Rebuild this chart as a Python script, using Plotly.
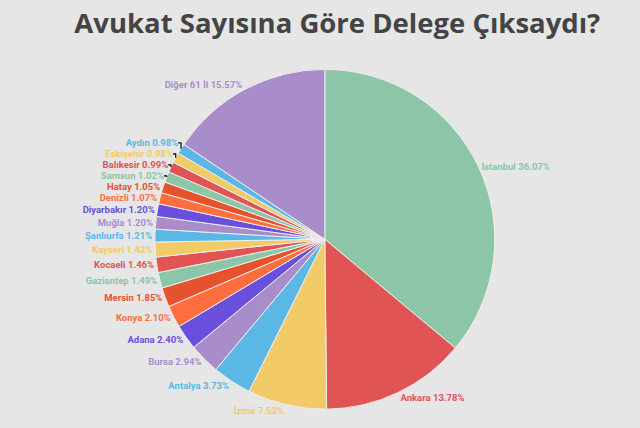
import plotly.graph_objects as go

iller = ['İstanbul', 'Ankara', 'İzmir', 'Antalya', 'Bursa', 'Adana', 'Konya',
         'Mersin', 'Gaziantep', 'Kocaeli', 'Kayseri', 'Şanlıurfa', 'Muğla',
         'Diyarbakır', 'Denizli', 'Hatay', 'Samsun', 'Balıkesir', 'Eskişehir',
         'Aydın', 'Diğer 61 İl']
oranlar = [36.07, 13.78, 7.53, 3.73, 2.94, 2.40, 2.10, 1.85, 1.49, 1.46, 1.42,
           1.21, 1.20, 1.20, 1.07, 1.05, 1.02, 0.99, 0.98, 0.98, 15.57]

palet = ['#8cc5a7', '#e05454', '#f2cb68', '#5bb8e6', '#a98dcb', '#6a4fdc',
         '#ff6e3f', '#e5522c']
renkler = [palet[i % len(palet)] for i in range(len(iller))]
etiketler = ['%s %.2f%%' % (il, o) for il, o in zip(iller, oranlar)]

fig = go.Figure(go.Pie(
    labels=iller,
    values=oranlar,
    text=etiketler,
    textinfo='text',
    textposition='outside',
    sort=False,
    direction='clockwise',
    rotation=0,
    marker=dict(colors=renkler, line=dict(color='#eeeeee', width=1)),
    outsidetextfont=dict(family='Roboto', size=9.5, color=renkler, weight='bold'),
    domain=dict(x=[0.242, 0.773], y=[0.044, 0.838]),
    showlegend=False,
))

fig.update_layout(
    title=dict(text='<b>Avukat Sayısına Göre Delege Çıksaydı?</b>',
               x=0.527, xanchor='center', y=0.946, yanchor='middle',
               font=dict(family='Open Sans', size=27.5, color='#444444')),
    width=640, height=428,
    margin=dict(l=0, r=0, t=0, b=0),
    paper_bgcolor='#e6e6e6',
    plot_bgcolor='#e6e6e6',
)

# sayfanın varsayılan 8px kenar boşluğunu kaldır
fig.write_html('out.html', config={'displayModeBar': False},
               post_script="document.body.style.margin='0px';")
